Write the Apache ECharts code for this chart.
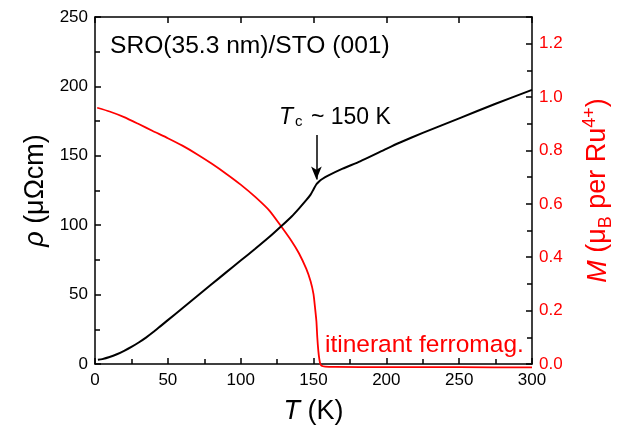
<!DOCTYPE html>
<html><head><meta charset="utf-8">
<script src="https://cdn.jsdelivr.net/npm/echarts@6/dist/echarts.min.js"></script>
<style>html,body{margin:0;padding:0;background:#fff}#c{width:626px;height:432px}</style>
</head><body><div id="c"></div>
<script>
// Resistivity rho (μΩcm) vs T (K)
const T_rho = [2,5,10,15,20,25,30,35,40,45,50,60,70,80,90,100,110,120,128,135,140,145,148,150,152,154,156,160,170,182,200,209,225,250,275,300];
const rho   = [3,3.5,5,7,9.5,12.3,15.5,19,23,27.3,31.6,40.2,48.8,57.4,66,74.5,83,91.8,99.4,106.3,112,118,122,125.8,129.5,131.7,133.3,135.7,140.7,146,155,159.4,166.5,177,187.5,197.5];
// Magnetization M (μB per Ru4+) vs T (K)
const T_M = [1.5,10,20,30,40,50,60,70,80,90,100,110,120,128,135,140,145,148,150,151,152,152.6,153.3,154,154.6,155.5,158,165,200,250,300];
const M   = [0.96,0.946,0.925,0.899,0.872,0.846,0.818,0.786,0.751,0.713,0.672,0.626,0.573,0.514,0.46,0.415,0.357,0.31,0.262,0.214,0.16,0.1,0.05,0.018,0.002,-0.007,-0.01,-0.011,-0.012,-0.012,-0.013];
// Axis ranges / ticks
const xRange = [0, 300, 50];
const yLeftRange = [0, 250, 50];
const yRightRange = [0, 1.3, 0.2];
const arrowFrom = [152, 165], arrowTo = [152, 133];

const FF = "'Liberation Sans', Arial, sans-serif";
const chart = echarts.init(document.getElementById('c'), null, {renderer:'canvas'});
const axisLine = {show:true, onZero:false, lineStyle:{color:'#000', width:1.5}};
const tick = {show:true, inside:true, length:6, lineStyle:{color:'#000', width:1.5}};
const minorTick = {show:true, splitNumber:2, length:5, lineStyle:{color:'#000', width:1.5}};
chart.setOption({
  animation:false,
  grid:{left:95, right:94, top:17, bottom:68},
  xAxis:[{
    type:'value', min:xRange[0], max:xRange[1], interval:xRange[2], position:'bottom',
    axisLine, axisTick:tick, minorTick, splitLine:{show:false},
    axisLabel:{color:'#000', fontSize:17, fontFamily:FF, margin:8},
    name:'{i|T} (K)', nameLocation:'middle', nameGap:34,
    nameTextStyle:{fontSize:27, fontFamily:FF, color:'#000', rich:{i:{fontStyle:'italic', fontSize:27, fontFamily:FF}}}
  },{
    type:'value', min:xRange[0], max:xRange[1], interval:xRange[2], position:'top',
    axisLine, axisTick:tick, axisLabel:{show:false}, splitLine:{show:false}
  }],
  yAxis:[{
    type:'value', min:yLeftRange[0], max:yLeftRange[1], interval:yLeftRange[2], position:'left',
    axisLine, axisTick:tick, minorTick, splitLine:{show:false},
    axisLabel:{color:'#000', fontSize:17, fontFamily:FF, margin:7},
    name:'{i|ρ} (μΩcm)', nameLocation:'middle', nameGap:27,
    nameTextStyle:{fontSize:27, fontFamily:FF, color:'#000', rich:{i:{fontStyle:'italic', fontSize:27, fontFamily:FF}}}
  },{
    type:'value', min:yRightRange[0], max:yRightRange[1], interval:yRightRange[2], position:'right',
    axisLine, axisTick:tick, minorTick, splitLine:{show:false},
    axisLabel:{color:'#ff0000', fontSize:17, fontFamily:FF, margin:7,
      formatter:v => (Math.abs(v/0.2 - Math.round(v/0.2)) < 1e-6) ? v.toFixed(1) : ''},
    name:'{i|M} ({n|μ}{sub|B}{n| per Ru}{sup|4+}{n|)}', nameLocation:'middle', nameGap:49,
    nameTextStyle:{fontSize:27, fontFamily:FF, color:'#ff0000',
      rich:{
        i:{fontStyle:'italic', fontSize:27, fontFamily:FF, color:'#ff0000', lineHeight:34},
        n:{fontSize:27, fontFamily:FF, color:'#ff0000', lineHeight:34},
        sub:{fontSize:18, fontFamily:FF, color:'#ff0000', verticalAlign:'bottom', lineHeight:18},
        sup:{fontSize:18, fontFamily:FF, color:'#ff0000', verticalAlign:'top', lineHeight:18}
      }}
  }],
  graphic:[
    {type:'text', left:110, top:34, style:{text:'SRO(35.3 nm)/STO (001)', font:'24.6px '+FF, fill:'#000'}},
    {type:'text', left:279, top:106, style:{text:'{i|T}{sub|c}{n| ~ 150 K}', fill:'#000',
      rich:{i:{font:'italic 23px '+FF, lineHeight:28, verticalAlign:'bottom'}, n:{font:'23px '+FF, lineHeight:28, verticalAlign:'bottom'},
            sub:{font:'15px '+FF, lineHeight:18, verticalAlign:'bottom', padding:[0,2,0,2]}}}},
    {type:'text', left:325, top:333, style:{text:'itinerant ferromag.', font:'24.5px '+FF, fill:'#ff0000'}}
  ],
  series:[{
    type:'line', xAxisIndex:0, yAxisIndex:0, data:T_rho.map((t,i)=>[t,rho[i]]),
    showSymbol:false, smooth:0.2,
    lineStyle:{color:'#000', width:2}, itemStyle:{color:'#000'}, clip:false, z:3,
    markLine:{silent:true, symbol:['none','arrow'], symbolSize:[8,13], label:{show:false},
      lineStyle:{color:'#000', width:1.5, type:'solid'},
      data:[[{coord:arrowFrom},{coord:arrowTo}]]}
  },{
    type:'line', xAxisIndex:0, yAxisIndex:1, data:T_M.map((t,i)=>[t,M[i]]),
    showSymbol:false, smooth:0.2,
    lineStyle:{color:'#ff0000', width:1.8}, itemStyle:{color:'#ff0000'}, clip:false, z:2
  }]
});
</script></body></html>
